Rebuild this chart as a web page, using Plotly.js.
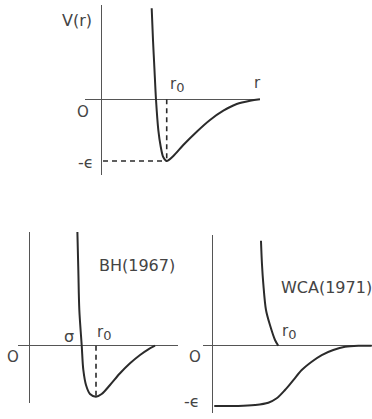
<!DOCTYPE html>
<html>
<head>
<meta charset="utf-8">
<script src="https://cdn.plot.ly/plotly-3.0.1.min.js"></script>
<style>
  html, body { margin: 0; padding: 0; background: #fff; }
  #chart { width: 372px; height: 419px; }
</style>
</head>
<body>
<div id="chart"></div>
<script>
// Pair potentials, r in units of r0 and V in units of epsilon.
const R0 = 1;
const EPS = 1;
const SIGMA = 0.786;

// Full Lennard-Jones-type potential V(r)
const rLJ = [0.769, 0.789, 0.812, 0.835, 0.871, 0.908, 0.948, 1.0, 1.102, 1.255, 1.462, 1.666, 1.871, 2.077, 2.282, 2.435];
const vLJ = [1.475, 0.961, 0.475, 0, -0.498, -0.768, -0.940, -1, -0.919, -0.741, -0.525, -0.335, -0.185, -0.076, -0.023, 0];

// Barker-Henderson (1967) split at sigma
const rBH = [0.720, 0.735, 0.750, 0.786, 0.810, 0.850, 0.910, 1.0, 1.085, 1.210, 1.360, 1.510, 1.660, 1.784, 1.885];
const vBH = [2.282, 1.484, 0.700, 0, -0.476, -0.771, -0.947, -1, -0.947, -0.771, -0.541, -0.345, -0.182, -0.071, 0];

// Weeks-Chandler-Andersen (1971): repulsive and attractive parts
const rWcaRep = [0.736, 0.752, 0.771, 0.8125, 0.873, 0.950, 1.0];
const vWcaRep = [1.741, 1.338, 1.035, 0.592, 0.343, 0.095, 0];
const rWcaAtt = [0.024, 0.390, 0.645, 0.848, 0.976, 1.102, 1.229, 1.357, 1.509, 1.662, 1.838, 2.017, 2.220, 2.424];
const vWcaAtt = [-1, -1, -0.983, -0.945, -0.872, -0.735, -0.570, -0.403, -0.265, -0.154, -0.071, -0.017, 0, 0];

const INK = '#2b2b2b';
const AXIS_INK = '#555';
const TEXT_INK = '#444';
const FONT = 'DejaVu Sans, Liberation Sans, sans-serif';
const R0_TEXT = 'r<sub><span style="font-size:13px">0</span></sub>';
const EPS_TEXT = '-ϵ';

function curve(x, y, xa, ya) {
  return {
    x: x, y: y, xaxis: xa, yaxis: ya, type: 'scatter', mode: 'lines',
    line: { color: INK, width: 2, shape: 'spline', smoothing: 0.9 },
    hoverinfo: 'skip'
  };
}
function dashed(x, y, xa, ya) {
  return {
    x: x, y: y, xaxis: xa, yaxis: ya, type: 'scatter', mode: 'lines',
    line: { color: INK, width: 1.6, dash: '5px,4px' },
    hoverinfo: 'skip'
  };
}

const traces = [
  curve(rLJ, vLJ, 'x', 'y'),
  dashed([R0, R0], [0, -EPS], 'x', 'y'),
  dashed([0.02, R0], [-EPS, -EPS], 'x', 'y'),
  curve(rBH, vBH, 'x2', 'y2'),
  dashed([R0, R0], [0, -EPS], 'x2', 'y2'),
  curve(rWcaRep, vWcaRep, 'x3', 'y3'),
  curve(rWcaAtt, vWcaAtt, 'x3', 'y3')
];

function axis(domain, range, anchor) {
  return {
    domain: domain, range: range, anchor: anchor,
    showgrid: false, showticklabels: false, ticks: '', showline: false,
    zeroline: true, zerolinecolor: AXIS_INK, zerolinewidth: 1.2,
    fixedrange: true
  };
}

function label(text, x, y, xref, yref, dx, dy, size) {
  return {
    text: text, x: x, y: y, xref: xref, yref: yref,
    xshift: dx, yshift: dy, showarrow: false,
    xanchor: 'center', yanchor: 'middle',
    font: { family: FONT, size: size || 15, color: TEXT_INK }
  };
}

const layout = {
  width: 372, height: 419,
  margin: { l: 0, r: 0, t: 0, b: 0 },
  paper_bgcolor: '#fff', plot_bgcolor: 'rgba(0,0,0,0)',
  showlegend: false,
  xaxis:  axis([0.2285, 0.6989], [-0.257, 2.435], 'y'),
  yaxis:  axis([0.5823, 0.9881], [-1.227, 1.528], 'x'),
  xaxis2: axis([0.0484, 0.4785], [-0.169, 2.229], 'y2'),
  yaxis2: axis([0.0382, 0.4463], [-1.124, 2.229], 'x2'),
  xaxis3: axis([0.5449, 1.0], [-0.152, 2.428], 'y3'),
  yaxis3: axis([0.0143, 0.4391], [-1.116, 1.836], 'x3'),
  annotations: [
    label('V(r)', 0, 1.2, 'x', 'y', -25, 5, 16),
    label(R0_TEXT, R0, 0, 'x', 'y', 10, 14),
    label('r', 2.3, 0, 'x', 'y', 6, 16),
    label('O', 0, 0, 'x', 'y', -19, -13),
    label(EPS_TEXT, 0, -EPS, 'x', 'y', -16, -1, 16),

    label('BH(1967)', 1.62, 1.58, 'x2', 'y2', 0, 0, 16),
    label('σ', SIGMA, 0, 'x2', 'y2', -13, 9, 16),
    label(R0_TEXT, R0, 0, 'x2', 'y2', 8, 13),
    label('O', 0, 0, 'x2', 'y2', -16, -11),

    label('WCA(1971)', 1.727, 0.973, 'x3', 'y3', 0, 0, 16),
    label(R0_TEXT, R0, 0, 'x3', 'y3', 11, 14),
    label('O', 0, 0, 'x3', 'y3', -18, -11),
    label(EPS_TEXT, 0, -EPS, 'x3', 'y3', -21, 5, 16)
  ]
};

Plotly.newPlot('chart', traces, layout, { staticPlot: true, displayModeBar: false });
</script>
</body>
</html>
